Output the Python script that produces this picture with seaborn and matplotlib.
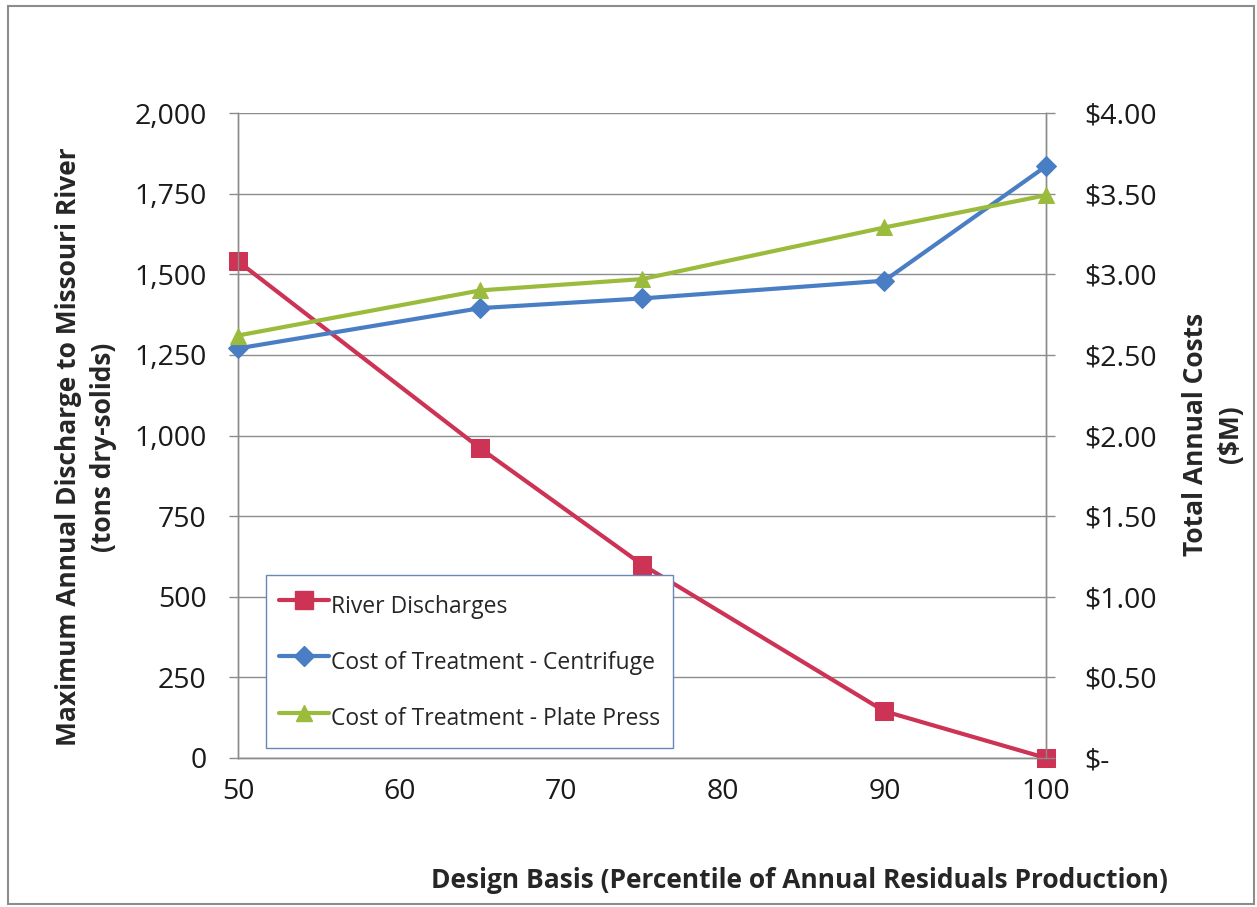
import matplotlib
matplotlib.use("Agg")
import matplotlib.pyplot as plt
import pandas as pd
import seaborn as sns
from matplotlib.lines import Line2D
from matplotlib.patches import Rectangle
from matplotlib.ticker import FuncFormatter, StrMethodFormatter

# data
design_basis = [50, 65, 75, 90, 100]
river_discharge = [1540, 960, 600, 145, 0]            # tons dry-solids
cost_centrifuge = [2.54, 2.79, 2.85, 2.96, 3.67]      # $M
cost_plate_press = [2.62, 2.90, 2.97, 3.29, 3.49]     # $M

series_names = ["River Discharges",
                "Cost of Treatment - Centrifuge",
                "Cost of Treatment - Plate Press"]
red, blue, green = "#CC3354", "#4A7EC4", "#9BBB3C"
grid_gray = "#8C8C8C"

sns.set_style("white")
plt.rcParams["font.family"] = ["Open Sans", "DejaVu Sans"]

df = pd.DataFrame({"basis": design_basis,
                   "river": river_discharge,
                   "centrifuge": cost_centrifuge,
                   "plate": cost_plate_press})

fig = plt.figure(figsize=(12.57, 9.07), dpi=100)
ax = fig.add_axes([238 / 1257, 1 - 758 / 907, (1046 - 238) / 1257, (758 - 113) / 907])
ax2 = ax.twinx()

# river discharges on the left axis
sns.lineplot(data=df, x="basis", y="river", ax=ax, color=red, linewidth=3,
             marker="s", markersize=13, markeredgecolor=red, zorder=3, clip_on=False)

# costs on the right axis
sns.lineplot(data=df, x="basis", y="centrifuge", ax=ax2, color=blue, linewidth=3,
             marker="D", markersize=10, markeredgecolor=blue, zorder=3, clip_on=False)
sns.lineplot(data=df, x="basis", y="plate", ax=ax2, color=green, linewidth=3,
             marker="^", markersize=12, markeredgecolor=green, zorder=3, clip_on=False)

ax.set_xlim(50, 100)
ax.set_ylim(0, 2000)
ax2.set_ylim(0, 4)
ax.set_xticks(range(50, 101, 10))
ax.set_yticks(range(0, 2001, 250))
ax2.set_yticks([i * 0.5 for i in range(9)])
ax.yaxis.set_major_formatter(StrMethodFormatter("{x:,.0f}"))
ax2.yaxis.set_major_formatter(FuncFormatter(lambda v, p: "$-" if v == 0 else f"${v:.2f}"))

ax.grid(axis="y", color=grid_gray, linewidth=1)
ax.grid(axis="x", visible=False)
ax.set_xlabel("")
ax.set_ylabel("")
ax2.set_ylabel("")

for a in (ax, ax2):
    a.spines["top"].set_visible(False)
    for s in ("left", "right", "bottom"):
        a.spines[s].set_color(grid_gray)
        a.spines[s].set_linewidth(1)
    a.tick_params(axis="both", which="major", direction="out", length=6.5,
                  width=1, color=grid_gray, labelsize=20.5, labelcolor="#1a1a1a")
ax.tick_params(axis="y", pad=16)
ax.tick_params(axis="x", pad=8)
ax2.tick_params(axis="y", pad=21)

fig.text(86 / 1257, 1 - 447 / 907,
         "Maximum Annual Discharge to Missouri River\n(tons dry-solids)",
         rotation=90, ha="center", va="center", ma="center",
         fontsize=19, fontweight="bold", linespacing=1.35)
fig.text(1213 / 1257, 1 - 434 / 907, "Total Annual Costs\n($M)",
         rotation=90, ha="center", va="center", ma="center",
         fontsize=19, fontweight="bold", linespacing=1.35)
fig.text(799 / 1257, 1 - 880 / 907,
         "Design Basis (Percentile of Annual Residuals Production)",
         ha="center", va="center", fontsize=19, fontweight="bold")

handles = [Line2D([], [], color=red, lw=3, marker="s", markersize=13),
           Line2D([], [], color=blue, lw=3, marker="D", markersize=10),
           Line2D([], [], color=green, lw=3, marker="^", markersize=12)]
leg = ax2.legend(handles, series_names, loc="upper left",
                 bbox_to_anchor=(266 / 1257, 1 - 575 / 907),
                 bbox_transform=fig.transFigure, borderaxespad=0,
                 fontsize=16.5, frameon=True, fancybox=False, framealpha=1,
                 edgecolor="#6A86B8", handlelength=2.2, handleheight=2.0,
                 handletextpad=0.1, labelspacing=0.91, borderpad=0.55)
leg.get_frame().set_linewidth(1)
leg.set_zorder(10)

# outer frame around the whole chart
fig.patches.append(Rectangle((8 / 1257, 3 / 907), 1246 / 1257, 898 / 907,
                             transform=fig.transFigure, fill=False,
                             edgecolor="#8C8C8C", linewidth=1.5))

fig.savefig("out.png", dpi=100)
